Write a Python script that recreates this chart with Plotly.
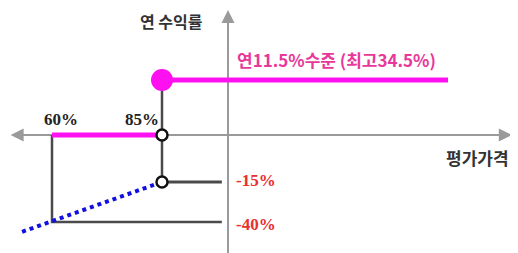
import plotly.graph_objects as go

# Schematic payoff diagram data
# x: evaluation price (% of initial), y: schematic return level
barrier_low = 60      # 60%
barrier_high = 85     # 85%
axis_x = 100          # y-axis placed at 100%
cap_level = 1.17      # schematic level of annual 11.5% return
knock_level = -1.0    # schematic level of -15%
floor_level = -1.85   # schematic level of -40%
blue_start = (53.2, -2.06)
cap_line_end = 150

price_labels = ["60%", "85%"]
return_labels = ["-15%", "-40%"]
cap_label = "연11.5%수준 (최고34.5%)"
y_title = "연 수익률"
x_title = "평가가격"

fig = go.Figure()

dark = "#4a4a4a"
mag = "#ff10f0"
arrow_gray = "#9a9a9a"

# Axis lines (below traces)
fig.add_shape(type="line", x0=axis_x, x1=axis_x, y0=-2.6, y1=2.5, xref="x", yref="y",
              line=dict(color=arrow_gray, width=2), layer="below")
fig.add_shape(type="line", x0=51.5, x1=163.0, y0=0, y1=0, xref="x", yref="y",
              line=dict(color=arrow_gray, width=2), layer="below")

# Guide lines
fig.add_trace(go.Scatter(x=[barrier_high, barrier_high], y=[cap_level, knock_level],
                         mode="lines", line=dict(color=dark, width=2.5), hoverinfo="skip"))
fig.add_trace(go.Scatter(x=[barrier_high, axis_x - 1.4], y=[knock_level, knock_level],
                         mode="lines", line=dict(color=dark, width=3), hoverinfo="skip"))
fig.add_trace(go.Scatter(x=[barrier_low, barrier_low, axis_x - 1.4], y=[0, floor_level, floor_level],
                         mode="lines", line=dict(color=dark, width=2.5), hoverinfo="skip"))

# Magenta payoff lines
fig.add_trace(go.Scatter(x=[barrier_high, cap_line_end], y=[cap_level, cap_level],
                         mode="lines", line=dict(color=mag, width=5), hoverinfo="skip"))
fig.add_trace(go.Scatter(x=[barrier_low, barrier_high], y=[0, 0],
                         mode="lines", line=dict(color=mag, width=5), hoverinfo="skip"))

# Blue dotted loss line
fig.add_trace(go.Scatter(x=[blue_start[0], barrier_high], y=[blue_start[1], knock_level],
                         mode="lines", line=dict(color="#1010e0", width=4, dash="dot"), hoverinfo="skip"))

# Markers
fig.add_trace(go.Scatter(x=[barrier_high], y=[cap_level], mode="markers",
                         marker=dict(size=22, color=mag, line=dict(width=0)), hoverinfo="skip"))
fig.add_trace(go.Scatter(x=[barrier_high, barrier_high], y=[0, knock_level], mode="markers",
                         marker=dict(size=11, color="white", line=dict(width=2.5, color="#111")),
                         hoverinfo="skip"))

# Arrowheads
fig.add_annotation(x=axis_x, y=2.66, ax=axis_x, ay=2.3, xref="x", yref="y", axref="x", ayref="y",
                   showarrow=True, arrowhead=2, arrowsize=1.3, arrowwidth=2, arrowcolor=arrow_gray, text="")
fig.add_annotation(x=164.5, y=0, ax=160, ay=0, xref="x", yref="y", axref="x", ayref="y",
                   showarrow=True, arrowhead=2, arrowsize=1.3, arrowwidth=2, arrowcolor=arrow_gray, text="")
fig.add_annotation(x=50.6, y=0, ax=55, ay=0, xref="x", yref="y", axref="x", ayref="y",
                   showarrow=True, arrowhead=2, arrowsize=1.3, arrowwidth=2, arrowcolor=arrow_gray, text="")

kfont = "Noto Sans CJK KR"
sfont = "Liberation Serif"

fig.add_annotation(x=87.27, y=2.70, yanchor="top", borderpad=0, text="<b>" + y_title + "</b>",
                   showarrow=False, font=dict(family=kfont, size=16, color="#333"))
fig.add_annotation(x=124.66, y=1.6, text="<b>" + cap_label + "</b>", showarrow=False,
                   font=dict(family=kfont, size=17, color="#e8389a"))
fig.add_annotation(x=156.6, y=-0.47, text="<b>" + x_title + "</b>", showarrow=False,
                   font=dict(family=kfont, size=17, color="#333"))
fig.add_annotation(x=62.04, y=0.34, text="<b>" + price_labels[0] + "</b>", showarrow=False,
                   font=dict(family=sfont, size=17, color="#222"))
fig.add_annotation(x=80.45, y=0.34, text="<b>" + price_labels[1] + "</b>", showarrow=False,
                   font=dict(family=sfont, size=17, color="#222"))
fig.add_annotation(x=106.36, y=-0.96, text="<b>" + return_labels[0] + "</b>", showarrow=False,
                   font=dict(family=sfont, size=17, color="#e83030"))
fig.add_annotation(x=106.36, y=-1.9, text="<b>" + return_labels[1] + "</b>", showarrow=False,
                   font=dict(family=sfont, size=17, color="#e83030"))

fig.update_layout(
    width=518, height=253,
    margin=dict(l=0, r=0, t=0, b=0),
    paper_bgcolor="white", plot_bgcolor="white",
    showlegend=False,
    xaxis=dict(range=[50.0, 167.73], visible=False, fixedrange=True),
    yaxis=dict(range=[-2.681, 2.702], visible=False, fixedrange=True),
)

fig.write_html("out.html")
